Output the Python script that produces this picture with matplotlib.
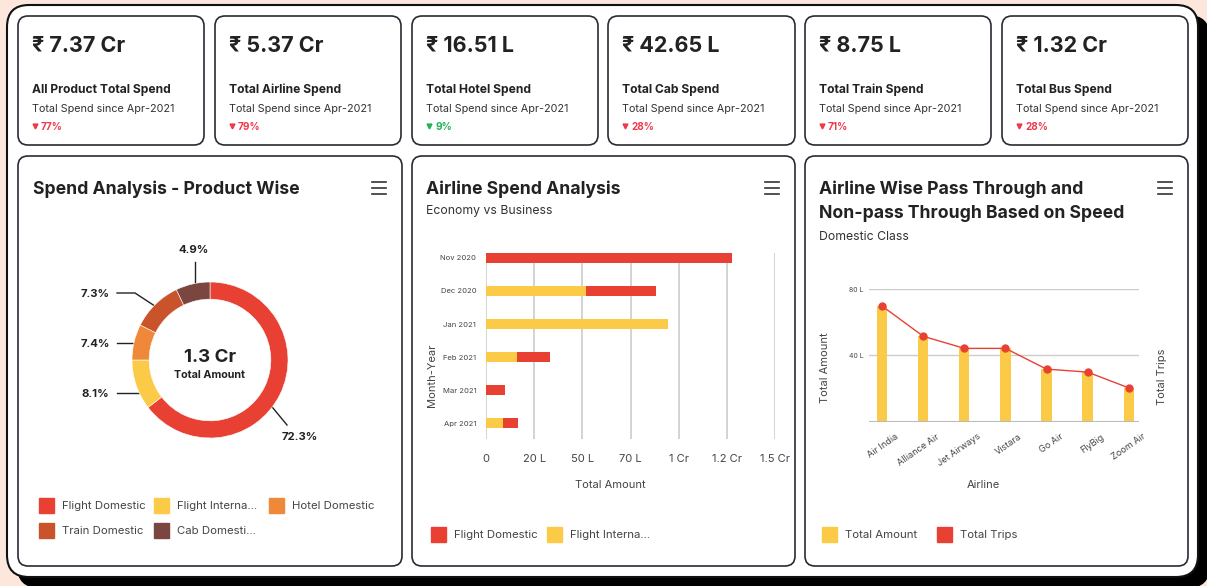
import numpy as np
import matplotlib
matplotlib.use("Agg")
import matplotlib.pyplot as plt
from matplotlib.patches import FancyBboxPatch, Rectangle
from matplotlib.transforms import ScaledTranslation

plt.rcParams['font.family'] = ['Inter', 'DejaVu Sans']

W, H = 1207, 586

# ---- data -----------------------------------------------------------------
kpi_values = ["₹ 7.37 Cr", "₹ 5.37 Cr", "₹ 16.51 L", "₹ 42.65 L", "₹ 8.75 L", "₹ 1.32 Cr"]
kpi_titles = ["All Product Total Spend", "Total Airline Spend", "Total Hotel Spend",
              "Total Cab Spend", "Total Train Spend", "Total Bus Spend"]
kpi_sub = "Total Spend since Apr-2021"
kpi_change = ["77%", "79%", "9%", "28%", "71%", "28%"]
kpi_good = [False, False, True, False, False, False]

products = ["Flight Domestic", "Flight Interna...", "Hotel Domestic", "Train Domestic", "Cab Domesti..."]
slice_share = [64.6, 10.4, 7.4, 10.5, 7.1]          # as drawn in the ring
share_labels = ["72.3%", "8.1%", "7.4%", "7.3%", "4.9%"]  # as printed
donut_total = "1.3 Cr"

months = ["Nov 2020", "Dec 2020", "Jan 2021", "Feb 2021", "Mar 2021", "Apr 2021"]
flight_intl = [0.0, 0.52, 0.946, 0.163, 0.0, 0.09]    # Cr
flight_dom = [1.275, 0.362, 0.0, 0.169, 0.10, 0.074]  # Cr
amount_ticks = [0, 0.25, 0.5, 0.75, 1.0, 1.25, 1.5]
amount_tick_labels = ["0", "20 L", "50 L", "70 L", "1 Cr", "1.2 Cr", "1.5 Cr"]

airlines = ["Air India", "Alliance Air", "Jet Airways", "Vistara", "Go Air", "FlyBig", "Zoom Air"]
airline_amount = [69.7, 51.5, 44.2, 44.2, 31.7, 29.9, 20.4]  # lakh
airline_trips = [69.7, 51.5, 44.2, 44.2, 31.7, 29.9, 20.4]   # unlabelled right axis
amount_axis_ticks = [40, 80]
amount_axis_labels = ["40 L", "80 L"]

# ---- colours --------------------------------------------------------------
RED, YELLOW, ORANGE, TRAIN, CAB = "#e84134", "#fbcb47", "#ef8838", "#c9532b", "#7b463f"
prod_colors = [RED, YELLOW, ORANGE, TRAIN, CAB]
DARK = "#222222"
GREY = "#444444"


def rect(x0, y0, x1, y1):
    return [x0 / W, 1 - y1 / H, (x1 - x0) / W, (y1 - y0) / H]


fig = plt.figure(figsize=(W / 100, H / 100), dpi=100)
fig.patch.set_facecolor("#fde7dd")
bg = fig.add_axes([0, 0, 1, 1])
bg.set_xlim(0, W)
bg.set_ylim(H, 0)
bg.axis("off")


def card(x0, y0, x1, y1, r=10, lw=1.2, fc="white", ec="#2a2a35", z=1):
    bg.add_patch(FancyBboxPatch((x0, y0), x1 - x0, y1 - y0,
                                boxstyle="round,pad=0,rounding_size=%d" % r,
                                fc=fc, ec=ec, lw=lw, zorder=z))


def hamburger(x, y):
    for dy in (0, 6, 12):
        bg.plot([x, x + 14], [y + dy, y + dy], color="#333333", lw=1.2, zorder=5)


def legend_row(items, y):
    for x, label, col in items:
        bg.add_patch(Rectangle((x, y - 7.5), 15, 15, color=col, zorder=5))
        bg.text(x + 23, y + 4, label, fontsize=8.2, color=GREY, va="baseline", zorder=5)


def btext(x, y, s, size, bold=False, color=DARK, **kw):
    # y is the baseline in pixels
    bg.text(x, y, s, fontsize=size, fontweight="bold" if bold else "normal",
            color=color, va="baseline", **kw)


# outer container with hard shadow
card(17, 15, 1210, 588, r=22, lw=0, fc="black", ec="black", z=0)
card(7, 5, 1198, 577, r=22, lw=1.5, fc="white", ec="#111111", z=0.5)

# ---- KPI cards ------------------------------------------------------------
kpi_x = [(18, 204), (215, 401), (412, 598), (608, 795), (805, 991), (1002, 1188)]
for (x0, x1), v, t, c, good in zip(kpi_x, kpi_values, kpi_titles, kpi_change, kpi_good):
    card(x0, 16, x1, 145)
    btext(x0 + 14, 52, v, 15.5, bold=True)
    btext(x0 + 14, 92.5, t, 8.7, bold=True)
    btext(x0 + 14, 112, kpi_sub, 7.8, color="#333333")
    col = "#1fb457" if good else "#f0384a"
    bg.plot([x0 + 17], [125.5], marker="v", ms=3.5, color=col, zorder=5)
    btext(x0 + 23, 129.5, c, 7.2, bold=True, color=col)

# ---- bottom panels --------------------------------------------------------
panels = [(18, 402), (412, 795), (805, 1188)]
for x0, x1 in panels:
    card(x0, 156, x1, 566)
    hamburger(x1 - 30, 182)

btext(33, 194, "Spend Analysis - Product Wise", 12.7, bold=True)
btext(426, 194, "Airline Spend Analysis", 12.7, bold=True)
btext(426, 214, "Economy vs Business", 8.8, color="#333333")
btext(819, 194, "Airline Wise Pass Through and", 12.7, bold=True)
btext(819, 218.5, "Non-pass Through Based on Speed", 12.7, bold=True)
btext(819, 240.5, "Domestic Class", 8.8, color="#333333")

# ---- donut ----------------------------------------------------------------
cx, cy, R = 210, 360, 78
ax1 = fig.add_axes(rect(cx - R, cy - R, cx + R, cy + R))
ax1.pie(slice_share, colors=prod_colors, startangle=90, counterclock=False, radius=1,
        wedgeprops=dict(width=0.22, edgecolor="white", linewidth=0.4))
ax1.set_xlim(-1, 1)
ax1.set_ylim(-1, 1)
ax1.axis("off")
btext(cx, 361.5, donut_total, 13.5, bold=True, ha="center")
btext(cx, 377.5, "Total Amount", 7.8, bold=True, ha="center")

# leader lines: start on the ring at each slice's mid angle
cum = np.cumsum([0] + slice_share)
mids = 90 - (cum[:-1] + np.array(slice_share) / 2) * 3.6
label_pos = [(300, 440, [(287, 425)]),
             (95, 397, [(117, 393)]),
             (95, 347, [(117, 343)]),
             (95, 297, [(135, 293), (117, 293)]),
             (194, 253, [(195, 262)])]
for ang, lab, (lx, ly, path) in zip(mids, share_labels, label_pos):
    a = np.deg2rad(ang)
    sx, sy = cx + 70 * np.cos(a), cy - 70 * np.sin(a)
    if lab in ("8.1%", "7.4%"):
        sy = path[0][1]
        sx = cx - np.sqrt(70 ** 2 - (sy - cy) ** 2)
    if lab == "4.9%":
        sx = path[0][0]
    if lab == "72.3%":
        sx, sy = 268, 402
    xs = [sx] + [p[0] for p in path]
    ys = [sy] + [p[1] for p in path]
    bg.plot(xs, ys, color="#222222", lw=1, zorder=5)
    btext(lx, ly, lab, 8.2, bold=True, ha="center")

legend_row([(39, products[0], RED), (154, products[1], YELLOW), (269, products[2], ORANGE)], 505)
legend_row([(39, products[3], TRAIN), (154, products[4], CAB)], 530)

# ---- airline spend (stacked horizontal bars) ------------------------------
ax2 = fig.add_axes(rect(486, 253, 775, 439))
yy = np.arange(len(months))
ax2.barh(yy, flight_intl, height=0.3, color=YELLOW, zorder=3)
ax2.barh(yy, flight_dom, left=flight_intl, height=0.3, color=RED, zorder=3)
ax2.set_xlim(0, 1.5)
ax2.set_ylim(5.48, -0.15)
ax2.set_xticks(amount_ticks)
ax2.set_xticklabels(amount_tick_labels, fontsize=8, color=GREY)
ax2.set_yticks(yy)
ax2.set_yticklabels(months, fontsize=5.5, color=GREY)
ax2.tick_params(length=0)
ax2.tick_params(axis="x", pad=10.5)
ax2.tick_params(axis="y", pad=7)
ax2.grid(axis="x", color="#cccccc", lw=1.2, zorder=0)
for s in ax2.spines.values():
    s.set_visible(False)
ax2.set_facecolor("none")
bg.text(432, 375, "Month-Year", fontsize=8, color=GREY, rotation=90, ha="center", va="center")
btext(610, 488.5, "Total Amount", 8, color=GREY, ha="center")
legend_row([(431, "Flight Domestic", RED), (547, "Flight Interna...", YELLOW)], 534)

# ---- airline pass-through (bars + line) -----------------------------------
ax3 = fig.add_axes(rect(869, 289, 1139, 421.7))
xx = np.arange(len(airlines))
ax3.bar(xx, airline_amount, width=0.25, color=YELLOW, zorder=3)
ax3.set_xlim(-0.32, 6.25)
ax3.set_ylim(0, 80)
for v in amount_axis_ticks:
    ax3.axhline(v, color="#cccccc", lw=1, zorder=0)
ax3.axhline(0, color="#bbbbbb", lw=1.5, zorder=4)
ax3.set_yticks(amount_axis_ticks)
ax3.set_yticklabels(amount_axis_labels, fontsize=5, color=GREY)
ax3.set_xticks(xx)
ax3.set_xticklabels([])
# rotated category labels, shifted so their upper-right end sits right of the bar
off = ScaledTranslation(13 / 100, -10.5 / 100, fig.dpi_scale_trans)
for i, name in enumerate(airlines):
    ax3.text(i, 0, name, transform=ax3.get_xaxis_transform() + off, fontsize=6.5,
             color=GREY, rotation=35, ha="right", va="top", rotation_mode="anchor")
ax3.tick_params(length=0)
ax3.tick_params(axis="y", pad=4)
for s in ax3.spines.values():
    s.set_visible(False)
ax3.set_facecolor("none")
ax3b = ax3.twinx()
ax3b.plot(xx, airline_trips, color=RED, lw=1, marker="o", ms=5, zorder=5)
ax3b.set_ylim(0, 80)
ax3b.set_yticks([])
for s in ax3b.spines.values():
    s.set_visible(False)
bg.text(825, 368, "Total Amount", fontsize=8, color=GREY, rotation=90, ha="center", va="center")
bg.text(1162, 377, "Total Trips", fontsize=8, color=GREY, rotation=90, ha="center", va="center")
btext(983, 488.5, "Airline", 8, color=GREY, ha="center")
legend_row([(822, "Total Amount", YELLOW), (937, "Total Trips", RED)], 534)

fig.savefig("out.png", dpi=100)
